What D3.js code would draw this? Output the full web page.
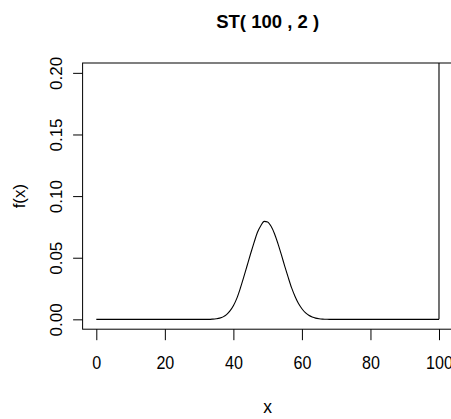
<!DOCTYPE html>
<html>
<head>
<meta charset="utf-8">
<script src="https://cdn.jsdelivr.net/npm/d3@7"></script>
<style>
  html, body { margin: 0; padding: 0; background: #fff; }
  svg { display: block; }
  text { font-family: "Liberation Sans", Arial, sans-serif; fill: #000; }
</style>
</head>
<body>
<div id="chart"></div>
<script>
// ---- data ----
const title = "ST( 100 , 2 )";
const xLabel = "x";
const yLabel = "f(x)";
const xTicks = [0, 20, 40, 60, 80, 100];
const yTicks = [0.00, 0.05, 0.10, 0.15, 0.20];
const xTickLabels = ["0", "20", "40", "60", "80", "100"];
const yTickLabels = ["0.00", "0.05", "0.10", "0.15", "0.20"];
// density curve
const densityX = [0, 33, 34, 35, 36, 37, 38, 39, 40, 41, 42, 43, 44, 45, 46, 47, 48, 49, 50,
                  51, 52, 53, 54, 55, 56, 57, 58, 59, 60, 61, 62, 63, 64, 65, 66, 67, 68, 100];
const densityY = [0, 0, 0.0002, 0.0005, 0.0010, 0.0020, 0.0038, 0.0068, 0.0110, 0.0170, 0.0250,
                  0.0340, 0.0435, 0.0530, 0.0620, 0.0705, 0.0760, 0.0795, 0.0790,
                  0.0755, 0.0695, 0.0615, 0.0525, 0.0430, 0.0340, 0.0255, 0.0185, 0.0128,
                  0.0086, 0.0054, 0.0033, 0.0019, 0.0010, 0.0005, 0.0002, 0.0001, 0, 0];
// spike at the end of the support (runs off the top of the plot)
const spikeX = [100, 100];
const spikeY = [0, 0.25];

const xDomain = [0, 100];
const yDomain = [0, 0.20];

// ---- layout ----
const W = 451, H = 419;
const plot = { left: 82.6, right: 452.7, top: 63, bottom: 329.2 };

const svg = d3.select("#chart").append("svg")
  .attr("width", W).attr("height", H);
svg.append("rect").attr("width", W).attr("height", H).attr("fill", "#fff");

// R-style 4% domain extension
const xpad = (xDomain[1] - xDomain[0]) * 0.04;
const ypad = (yDomain[1] - yDomain[0]) * 0.04;
const x = d3.scaleLinear().domain([xDomain[0] - xpad, xDomain[1] + xpad]).range([plot.left, plot.right]);
const y = d3.scaleLinear().domain([yDomain[0] - ypad, yDomain[1] + ypad]).range([plot.bottom, plot.top]);

svg.append("clipPath").attr("id", "clip").append("rect")
  .attr("x", plot.left).attr("y", plot.top)
  .attr("width", plot.right - plot.left).attr("height", plot.bottom - plot.top);

const g = svg.append("g").attr("clip-path", "url(#clip)");

const pts = densityX.map((d, i) => [d, densityY[i]]);
const line = d3.line().x(d => x(d[0])).y(d => y(d[1])).curve(d3.curveMonotoneX);
g.append("path").attr("d", line(pts))
  .attr("fill", "none").attr("stroke", "#000").attr("stroke-width", 1.1);

const spk = spikeX.map((d, i) => [d, spikeY[i]]);
g.append("path").attr("d", d3.line().x(d => x(d[0])).y(d => y(d[1]))(spk))
  .attr("fill", "none").attr("stroke", "#000").attr("stroke-width", 1.1);

// box
svg.append("rect")
  .attr("x", plot.left).attr("y", plot.top)
  .attr("width", plot.right - plot.left).attr("height", plot.bottom - plot.top)
  .attr("fill", "none").attr("stroke", "#000").attr("stroke-width", 1);

// x axis
const xAxis = d3.axisBottom(x).tickValues(xTicks).tickSize(11).tickSizeOuter(0)
  .tickFormat((d, i) => xTickLabels[i]);
const gx = svg.append("g").attr("transform", `translate(0,${plot.bottom})`).call(xAxis);
gx.select(".domain").remove();
gx.selectAll(".tick line").attr("stroke", "#000");
gx.selectAll(".tick text")
  .attr("y", 0).attr("dy", 0)
  .attr("transform", "translate(0,40) scale(0.92,1)")
  .style("font-size", "17.5px").attr("font-family", null);

// y axis
const yAxis = d3.axisLeft(y).tickValues(yTicks).tickSize(9.5).tickSizeOuter(0)
  .tickFormat((d, i) => yTickLabels[i]);
const gy = svg.append("g").attr("transform", `translate(${plot.left},0)`).call(yAxis);
gy.select(".domain").remove();
gy.selectAll(".tick line").attr("stroke", "#000");
gy.selectAll(".tick text")
  .attr("x", 0).attr("dy", 0)
  .attr("text-anchor", "middle")
  .attr("transform", "translate(-20.5,0) rotate(-90)")
  .style("font-size", "17px").attr("font-family", null);

// title
svg.append("text")
  .attr("x", (plot.left + plot.right) / 2).attr("y", 28.3)
  .attr("text-anchor", "middle")
  .style("font-size", "18.5px").style("font-weight", "bold")
  .text(title);

// axis labels
svg.append("text")
  .attr("x", (plot.left + plot.right) / 2).attr("y", 413)
  .attr("text-anchor", "middle")
  .style("font-size", "17.5px")
  .text(xLabel);

svg.append("text")
  .attr("transform", `translate(25,${(plot.top + plot.bottom) / 2}) rotate(-90)`)
  .attr("text-anchor", "middle")
  .style("font-size", "17px")
  .text(yLabel);
</script>
</body>
</html>
